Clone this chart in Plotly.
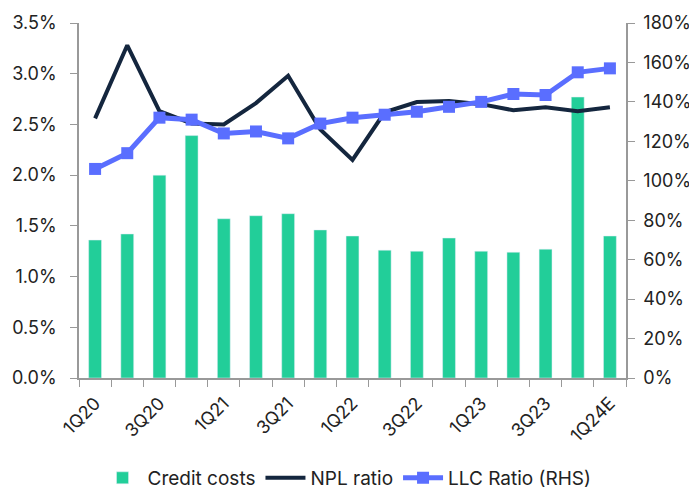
import plotly.graph_objects as go

categories = ["1Q20", "2Q20", "3Q20", "4Q20", "1Q21", "2Q21", "3Q21", "4Q21",
              "1Q22", "2Q22", "3Q22", "4Q22", "1Q23", "2Q23", "3Q23", "4Q23", "1Q24E"]
tick_labels = ["1Q20", "", "3Q20", "", "1Q21", "", "3Q21", "", "1Q22", "", "3Q22", "",
               "1Q23", "", "3Q23", "", "1Q24E"]
credit_costs = [1.36, 1.42, 2.00, 2.39, 1.57, 1.60, 1.62, 1.46, 1.40, 1.26, 1.25, 1.38,
                1.25, 1.24, 1.27, 2.77, 1.40]
npl_ratio = [2.56, 3.28, 2.63, 2.51, 2.50, 2.71, 2.98, 2.45, 2.15, 2.62, 2.72, 2.73,
             2.70, 2.64, 2.67, 2.63, 2.67]
llc_ratio = [106, 114, 132, 131, 124, 125, 121.5, 129, 132, 133.5, 135, 137.5,
             140, 144, 143.5, 155, 157]

fig = go.Figure()
fig.add_trace(go.Bar(x=categories, y=credit_costs, name="Credit costs",
                     marker=dict(color="#22CE99"), width=0.4))
fig.add_trace(go.Scatter(x=categories, y=npl_ratio, name="NPL ratio", mode="lines",
                         line=dict(color="#14263E", width=4)))
fig.add_trace(go.Scatter(x=categories, y=llc_ratio, name="LLC Ratio (RHS)", mode="lines+markers",
                         line=dict(color="#5A6EFF", width=5),
                         marker=dict(symbol="square", size=12, color="#5A6EFF"),
                         yaxis="y2"))

axis_col = "#999999"
fig.update_layout(
    width=689, height=487,
    margin=dict(l=71, r=71, t=15, b=117, autoexpand=False),
    paper_bgcolor="white", plot_bgcolor="white",
    font=dict(family="Inter, Roboto, sans-serif", size=18, color="#222222"),
    showlegend=True,
    legend=dict(orientation="h", x=0.49, xanchor="center", yref="container",
                y=0.035, yanchor="middle",
                font=dict(size=19), itemwidth=40, tracegroupgap=0),
    bargap=0.6,
    xaxis=dict(type="category", tickmode="array", tickvals=categories, ticktext=tick_labels,
               tickangle=-45, ticks="outside", tickson="boundaries", ticklen=7,
               tickcolor=axis_col, showline=True, linecolor=axis_col, linewidth=1.5,
               showgrid=False, range=[-0.5, 16.5], automargin=False, ticklabelstandoff=6),
    yaxis=dict(range=[0, 3.5], dtick=0.5, tickformat=".1f", ticksuffix="%",
               ticks="outside", ticklen=7, tickcolor=axis_col, showline=True,
               linecolor=axis_col, linewidth=1.5, showgrid=False, zeroline=False,
               automargin=False, ticklabelstandoff=10),
    yaxis2=dict(range=[0, 180], dtick=20, ticksuffix="%", overlaying="y", side="right",
                ticks="outside", ticklen=7, tickcolor=axis_col, showline=True,
                linecolor=axis_col, linewidth=1.5, showgrid=False, zeroline=False,
                automargin=False, ticklabelstandoff=5),
)

fig.write_html("out.html")
